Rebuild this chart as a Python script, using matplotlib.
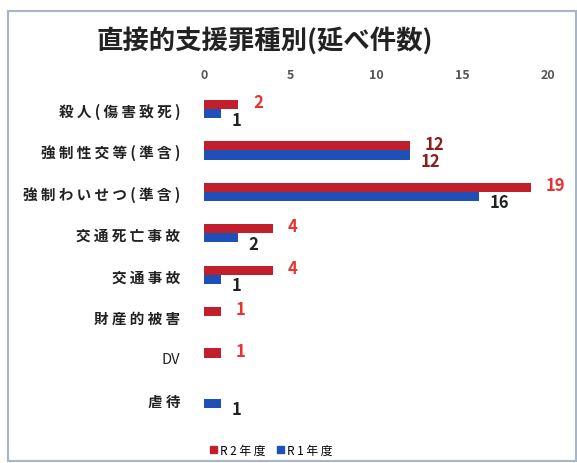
import matplotlib
matplotlib.use("Agg")
import matplotlib.pyplot as plt
from matplotlib.patches import Patch, Rectangle
import numpy as np

plt.rcParams["font.family"] = ["Noto Sans CJK JP", "DejaVu Sans"]

TITLE = "直接的支援罪種別(延べ件数)"
CATEGORIES = ["殺人(傷害致死)", "強制性交等(準含)", "強制わいせつ(準含)",
              "交通死亡事故", "交通事故", "財産的被害", "DV", "虐待"]
R2_VALUES = [2, 12, 19, 4, 4, 1, 1, 0]
R1_VALUES = [1, 12, 16, 2, 1, 0, 0, 1]
SERIES_NAMES = ["R2年度", "R1年度"]
X_TICKS = [0, 5, 10, 15, 20]

RED = "#c21f2c"
BLUE = "#1f50b8"


def spaced(text):
    # the original labels are drawn with wide letter spacing (latin text left alone)
    if text.isascii():
        return text
    return " ".join(text)


def main():
    fig = plt.figure(figsize=(5.77, 4.64), dpi=100)
    fig.patches.append(Rectangle((0.014, 0.004), 0.985, 0.97, transform=fig.transFigure,
                                 fill=False, edgecolor="#a7b6c6", linewidth=1.5))

    ax = fig.add_axes([0.3536, 0.0933, 0.596, 0.7142])
    y = np.arange(len(CATEGORIES))
    h = 0.22

    ax.barh(y - h / 2, R2_VALUES, height=h, color=RED)
    ax.barh(y + h / 2, R1_VALUES, height=h, color=BLUE)

    for i, (v2, v1) in enumerate(zip(R2_VALUES, R1_VALUES)):
        same = v2 == v1
        if v2 > 0:
            ax.text(v2 + 0.85, i - h * 0.75, str(v2), color="#8b1c1c" if same else "#e8322f",
                    fontsize=12, fontweight="bold", va="center", ha="left")
        if v1 > 0:
            ax.text(v1 + 0.6, i + h * 1.15, str(v1), color="#8b1c1c" if same else "#222222",
                    fontsize=12, fontweight="bold", va="center", ha="left")

    ax.set_xlim(0, 20)
    ax.set_ylim(len(CATEGORIES) - 0.5, -0.5)
    ax.set_xticks(X_TICKS)
    ax.xaxis.tick_top()
    ax.tick_params(axis="x", length=0, pad=5, labelsize=9, labelcolor="#555555")
    for lab in ax.get_xticklabels():
        lab.set_fontweight("bold")
    ax.set_yticks(y)
    ax.set_yticklabels([spaced(c) for c in CATEGORIES], fontsize=10.5, fontweight="bold",
                       color="#222222")
    ax.get_yticklabels()[CATEGORIES.index("DV")].set_fontweight("normal")
    ax.tick_params(axis="y", length=0, pad=17)
    for s in ax.spines.values():
        s.set_visible(False)

    fig.text(0.459, 0.912, TITLE, ha="center", va="center", fontsize=19, fontweight="bold",
             color="#222222")

    handles = [Patch(color=RED), Patch(color=BLUE)]
    fig.legend(handles, [spaced(n) for n in SERIES_NAMES], loc="center",
               bbox_to_anchor=(0.47, 0.028), ncol=2, frameon=False, fontsize=8.5,
               handlelength=0.6, handleheight=0.6, handletextpad=0.2, columnspacing=1.0)

    fig.savefig("out.png", dpi=100)


if __name__ == "__main__":
    main()
